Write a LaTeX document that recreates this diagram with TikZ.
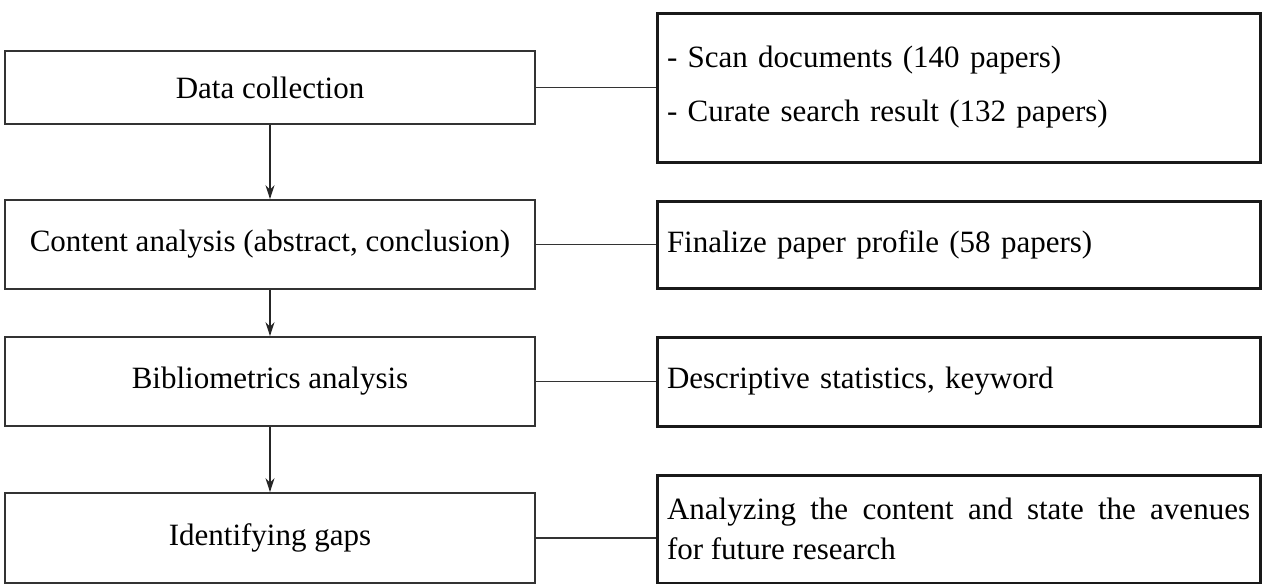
\documentclass[tikz,border=0pt]{standalone}
\usepackage{fontspec}
\setmainfont{Liberation Serif}
\usetikzlibrary{arrows.meta}

\begin{document}
\begin{tikzpicture}[
	x=1pt, y=-1pt,
	s/.style = {rectangle, draw=black!80, line width=1.8pt, inner sep=0pt, minimum width=530pt, font=\fontsize{31}{38}\selectfont},
	d/.style = {rectangle, draw=black!90, line width=3pt, inner sep=0pt, minimum width=603pt, text width=583pt, align=left, font=\fontsize{31}{40}\selectfont},
	a/.style = {-{Stealth[length=14pt, width=9pt]}, line width=1.8pt, black!85},
	l/.style = {line width=1.8pt, black!80}
	]
	\useasboundingbox (0, 0) rectangle (1262, 584);

	%Nodes
	\node[s, minimum height=73pt]	(c)	at	(270, 87.5)		{Data collection};
	\node[s, minimum height=89pt]	(ca)	at	(270, 244.5)	{Content analysis (abstract, conclusion)};
	\node[s, minimum height=89pt]	(ba)	at	(270, 381.5)	{Bibliometrics analysis};
	\node[s, minimum height=90pt]	(g)	at	(270, 538)		{Identifying gaps};

	\node[d, minimum height=149pt]	(sc)	at	(958.5, 87.5)	{- Scan documents (140 papers)\\[14pt]- Curate search result (132 papers)};
	\node[d, minimum height=87pt]	(fp)	at	(958.5, 244.5)	{Finalize paper profile (58 papers)};
	\node[d, minimum height=89pt]	(ds)	at	(958.5, 381.5)	{Descriptive statistics, keyword};
	\node[d, minimum height=108pt, align=justify]	(av)	at	(958.5, 529)	{Analyzing the content and state the avenues\linebreak for future research};

	%Lines
	\draw[a]	(c.south)	to	(ca.north);
	\draw[a]	(ca.south)	to	(ba.north);
	\draw[a]	(ba.south)	to	(g.north);
	\draw[l]	(c.east)	to	(sc.west);
	\draw[l]	(ca.east)	to	(fp.west);
	\draw[l]	(ba.east)	to	(ds.west);
	\draw[l]	(g.east)	to	(g.east -| av.west);
\end{tikzpicture}
\end{document}
